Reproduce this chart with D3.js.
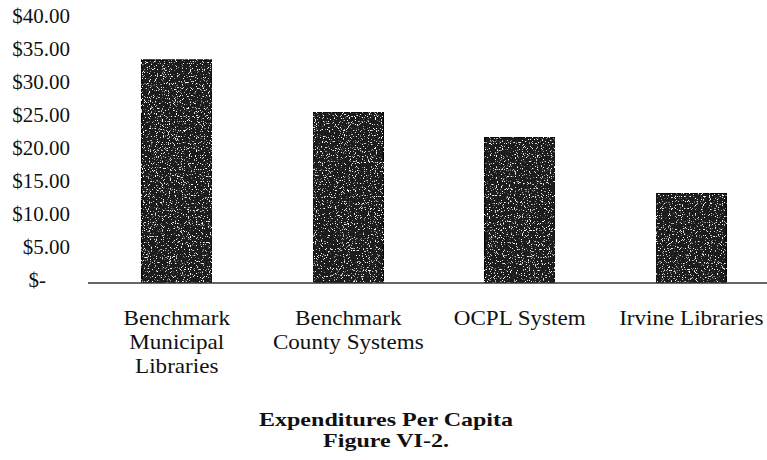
<!DOCTYPE html>
<html>
<head>
<meta charset="utf-8">
<script src="https://cdn.jsdelivr.net/npm/d3@7"></script>
<style>
  body { margin: 0; background: #fff; }
  text { font-family: "Liberation Serif", "DejaVu Serif", serif; fill: #111; }
</style>
</head>
<body>
<div id="chart"></div>
<script>
// Chart data
var categories = [
    ["Benchmark", "Municipal", "Libraries"],
    ["Benchmark", "County Systems"],
    ["OCPL System"],
    ["Irvine Libraries"]
];
var categoryKeys = ["Benchmark Municipal Libraries", "Benchmark County Systems", "OCPL System", "Irvine Libraries"];
var perCapita = [33.8, 25.9, 22.1, 13.6];
var yTicks = [0, 5, 10, 15, 20, 25, 30, 35, 40];
var titleLines = ["Expenditures Per Capita", "Figure VI-2."];

var width = 767, height = 460;

var svg = d3.select("#chart").append("svg")
    .attr("width", width)
    .attr("height", height);

// grainy "scanned" texture for the bars
var defs = svg.append("defs");
var grain = defs.append("filter").attr("id", "grain")
    .attr("x", 0).attr("y", 0).attr("width", 1).attr("height", 1);
grain.append("feTurbulence")
    .attr("type", "fractalNoise")
    .attr("baseFrequency", 0.85)
    .attr("numOctaves", 2)
    .attr("seed", 3)
    .attr("result", "noise");
grain.append("feColorMatrix")
    .attr("in", "noise")
    .attr("type", "matrix")
    .attr("values", "0 0 0 0 1  0 0 0 0 1  0 0 0 0 1  0 0 0 9 -5.6")
    .attr("result", "specks");
grain.append("feComposite")
    .attr("in", "specks").attr("in2", "SourceGraphic")
    .attr("operator", "atop");

var xScale = d3.scaleBand()
    .domain(categoryKeys)
    .range([91, 777])
    .paddingInner(0.59)
    .paddingOuter(0.295);

var yScale = d3.scaleLinear()
    .domain([0, 40])
    .range([283, 19]);

// y axis labels (no line, accounting-style format)
var yAxis = d3.axisLeft(yScale)
    .tickValues(yTicks)
    .tickSize(0)
    .tickPadding(0)
    .tickFormat(function(d) { return d === 0 ? "$-" : "$" + d.toFixed(2); });

var yG = svg.append("g")
    .attr("transform", "translate(70,-3)")
    .call(yAxis);
yG.select(".domain").remove();
yG.selectAll("text")
    .style("font-family", "'Liberation Serif', serif")
    .style("font-size", "21px")
    .attr("fill", "#111")
    .attr("x", function(d) { return d === 0 ? -24 : 0; });

// bars
svg.selectAll(".bar")
    .data(perCapita)
    .enter().append("rect")
    .attr("class", "bar")
    .attr("x", function(d, i) { return xScale(categoryKeys[i]); })
    .attr("y", function(d) { return yScale(d); })
    .attr("width", xScale.bandwidth())
    .attr("height", function(d) { return yScale(0) - yScale(d); })
    .attr("fill", "#1a1a1a")
    .attr("stroke", "#000")
    .attr("stroke-width", 1.2)
    .attr("filter", "url(#grain)");

// baseline
svg.append("line")
    .attr("x1", 88).attr("x2", width)
    .attr("y1", yScale(0)).attr("y2", yScale(0))
    .attr("stroke", "#333")
    .attr("stroke-width", 1.3);

// category labels (scan is a bit wide, so stretch text horizontally)
var xLabels = svg.selectAll(".xlabel")
    .data(categories)
    .enter().append("text")
    .attr("class", "xlabel")
    .attr("text-anchor", "middle")
    .style("font-size", "21px")
    .attr("transform", function(d, i) {
        return "translate(" + (xScale(categoryKeys[i]) + xScale.bandwidth() / 2) + ",325) scale(1.1,1)";
    });
xLabels.selectAll("tspan")
    .data(function(d) { return d; })
    .enter().append("tspan")
    .attr("x", 0)
    .attr("dy", function(d, i) { return i === 0 ? 0 : 24; })
    .text(function(d) { return d; });

// title
svg.selectAll(".title")
    .data(titleLines)
    .enter().append("text")
    .attr("class", "title")
    .attr("transform", function(d, i) { return "translate(386," + (426 + i * 21) + ") scale(1.3,1)"; })
    .attr("text-anchor", "middle")
    .style("font-size", "18.5px")
    .style("font-weight", "bold")
    .text(function(d) { return d; });
</script>
</body>
</html>
